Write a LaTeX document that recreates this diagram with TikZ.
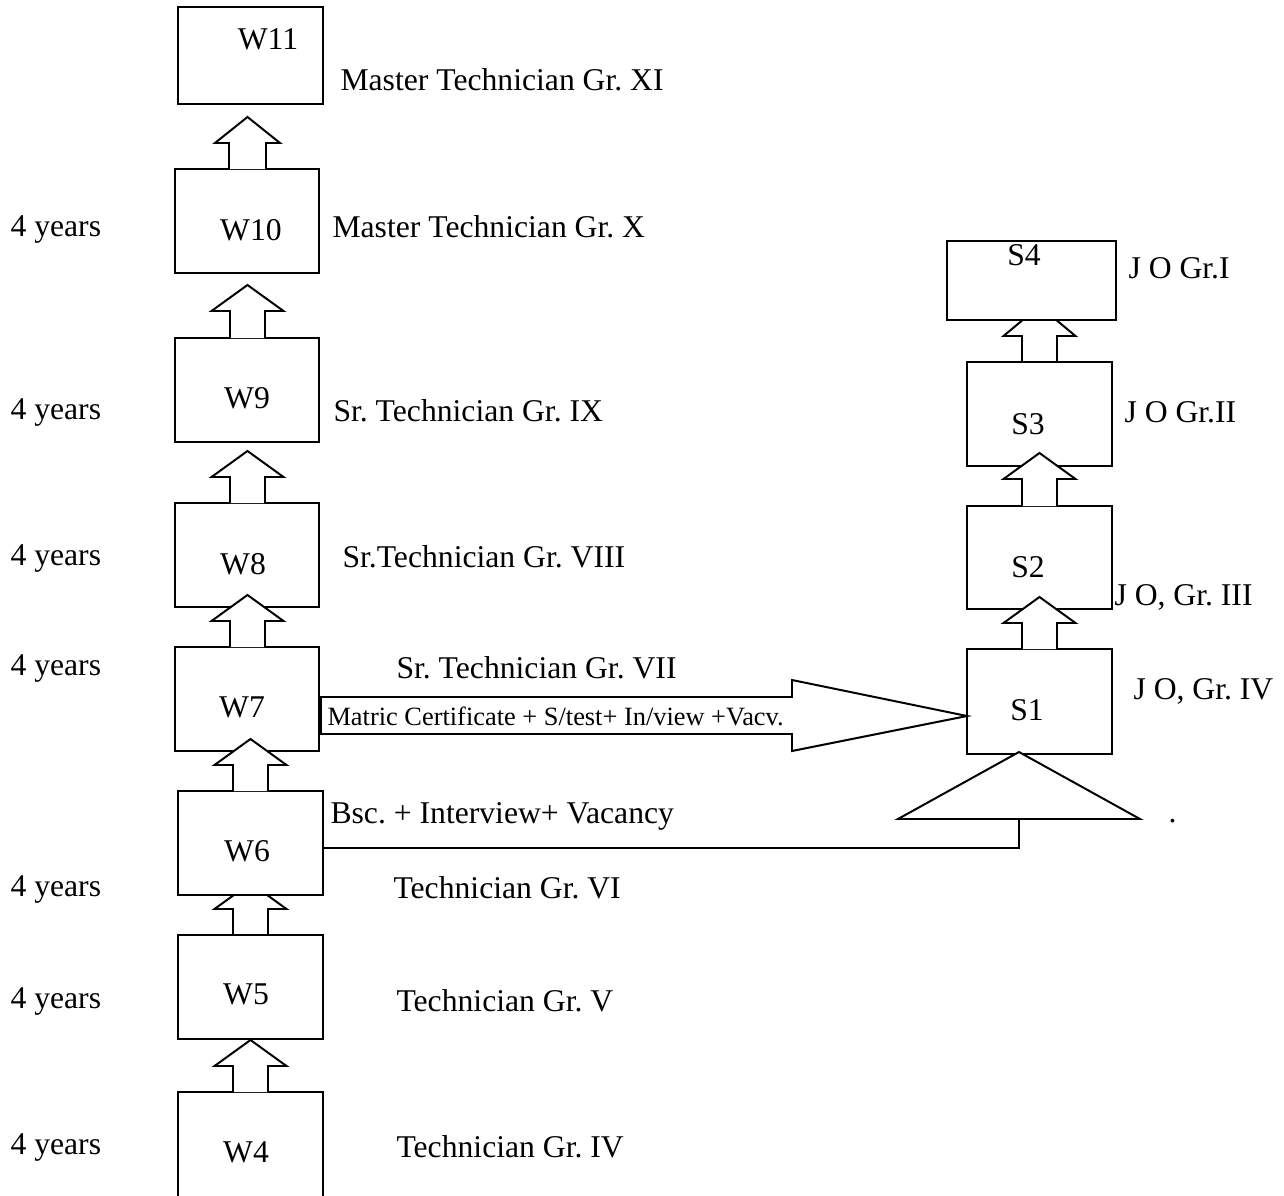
\documentclass[tikz,border=0pt]{standalone}
\usepackage{fontspec}
\setmainfont{Liberation Serif}
\usepackage{tikz}
\usetikzlibrary{
    calc,
    fit
}
\frenchspacing

% block arrow pointing up: x centre, base y, head y, tip y
\newcommand{\stepup}[4]{%
  \draw[blk] (#1-17.5,#2) -- (#1-17.5,#3) -- (#1-36,#3) -- (#1,#4)
    -- (#1+36,#3) -- (#1+17.5,#3) -- (#1+17.5,#2);}

\begin{document}
\begin{tikzpicture}[x=0.379pt, y=-0.379pt,
    font=\fontsize{12}{14}\selectfont,
    box/.style={draw, fill=white, line width=0.75pt, inner sep=0pt},
    blk/.style={draw, fill=white, line width=0.75pt, line join=miter},
    lbl/.style={anchor=west, inner sep=0pt}
]
\useasboundingbox (0,0) rectangle (1284,1196);

% arrows hidden under the next box
\stepup{250.5}{935}{909}{883}
\stepup{1039.5}{362}{336}{306}

% W boxes
\node[box, fit={(178,7)(323,104)}] (w11) {};
\node[box, fit={(175,169)(319,273)}] (w10) {};
\node[box, fit={(175,338)(319,442)}] (w9) {};
\node[box, fit={(175,503)(319,607)}] (w8) {};
\node[box, fit={(175,647)(319,751)}] (w7) {};
\node[box, fit={(178,791)(323,895)}] (w6) {};
\node[box, fit={(178,935)(323,1039)}] (w5) {};
\node[box, fit={(178,1092)(323,1230)}] (w4) {};

% S boxes
\node[box, fit={(947,241)(1116,320)}] (s4) {};
\node[box, fit={(967,362)(1112,466)}] (s3) {};
\node[box, fit={(967,506)(1112,609)}] (s2) {};
\node[box, fit={(967,649)(1112,754)}] (s1) {};

% promotion arrows
\draw[blk] (229,169) -- (229,143) -- (215,143) -- (247.5,117)
    -- (280,143) -- (266,143) -- (266,169);
\stepup{247.5}{338}{311}{285}
\stepup{247.5}{503}{477}{451}
\stepup{247.5}{647}{621}{595}
\stepup{250.5}{791}{765}{739}
\stepup{250.5}{1092}{1066}{1040}
\stepup{1039.5}{649}{623}{597}
\stepup{1039.5}{506}{479}{453}

% W7 to S1
\draw[blk] (321,697) -- (792,697) -- (792,680) -- (967,716)
    -- (792,751) -- (792,734) -- (321,734) -- cycle;
\node[lbl, font=\fontsize{10}{12}\selectfont] (req) at (327,716)
    {Matric Certificate + S/test+ In/view +Vacv.};

% W6 to S1
\coordinate (apex) at (1019,752);
\draw[blk] (apex) -- (1140,819) -- (898,819) -- cycle;
\coordinate (tb) at (apex |- 0,819);
\draw[line width=0.75pt] ($(w6.east)+(0,5)$) -| (tb);

% box names
\node (t11) at (268,39) {W11};
\node (t10) at (251,230) {W10};
\node (t9) at (247,398) {W9};
\node (t8) at (243,564) {W8};
\node (t7) at (242,707) {W7};
\node (t6) at (247,851) {W6};
\node (t5) at (246,994) {W5};
\node (t4) at (246,1152) {W4};
\node (u4) at (1024,255) {S4};
\node (u3) at (1028,424) {S3};
\node (u2) at (1028,567) {S2};
\node (u1) at (1027,710) {S1};

% years
\node[lbl] (y10) at (10,229) {4 years};
\node[lbl] (y9) at (10,412) {4 years};
\node[lbl] (y8) at (10,558) {4 years};
\node[lbl] (y7) at (10,668) {4 years};
\node[lbl] (y6) at (10,889) {4 years};
\node[lbl] (y5) at (10,1001) {4 years};
\node[lbl] (y4) at (10,1147) {4 years};

% grades
\node[lbl] (g11) at (340,80) {Master Technician Gr. XI};
\node[lbl] (g10) at (332,227) {Master Technician Gr. X};
\node[lbl] (g9) at (333,411) {Sr. Technician Gr. IX};
\node[lbl] (g8) at (342,557) {Sr.Technician Gr. VIII};
\node[lbl] (g7) at (396,668) {Sr. Technician Gr. VII};
\node[lbl] (bsc) at (330,816) {Bsc. + Interview+ Vacancy};
\node[lbl] (g6) at (393,888) {Technician Gr. VI};
\node[lbl] (g5) at (396,1001) {Technician Gr. V};
\node[lbl] (g4) at (396,1147) {Technician Gr. IV};
\node[lbl] (j1) at (1128,268) {J O Gr.I};
\node[lbl] (j2) at (1124,412) {J O Gr.II};
\node[lbl] (j3) at (1114,597) {J O, Gr. III};
\node[lbl] (j4) at (1133,691) {J O, Gr. IV};
\node[anchor=base west, inner sep=0pt] (dot) at (1168,822) {.};

\end{tikzpicture}
\end{document}
